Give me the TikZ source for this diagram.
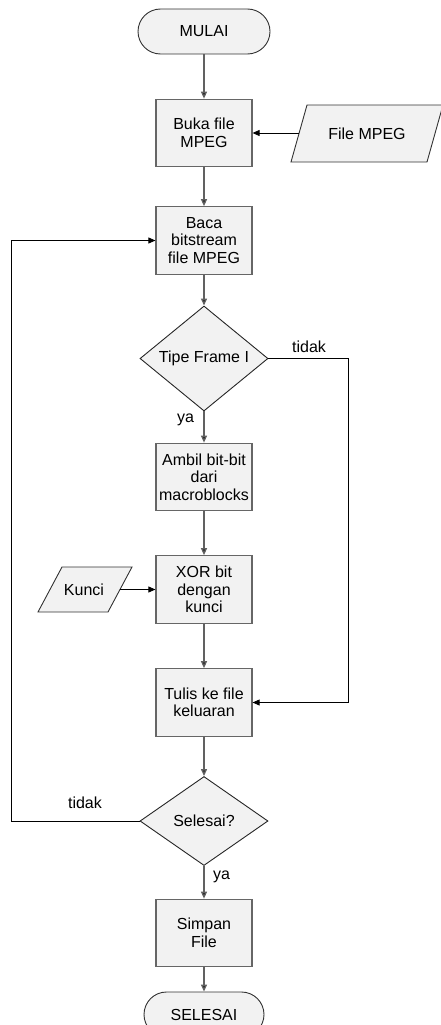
\documentclass[tikz,border=0pt]{standalone}
\usepackage{fontspec}
\setmainfont{Liberation Sans}
\usetikzlibrary{shapes.geometric,arrows.meta}
\begin{document}
\begin{tikzpicture}[x=1pt,y=-1pt,
  font=\fontsize{16}{17.5}\selectfont,
  proc/.style={rectangle, draw=black!60, line width=1.2pt, fill=black!5,
    minimum width=96pt, minimum height=67.5pt, align=center, inner sep=0pt},
  term/.style={rectangle, rounded corners=22.5pt, draw=black!80, line width=0.9pt,
    fill=black!5, minimum height=45pt, inner sep=0pt},
  decision/.style={diamond, draw=black!85, line width=0.9pt, fill=black!5,
    minimum width=128pt, minimum height=89pt, inner sep=0pt},
  iobox/.style={draw=black!80, line width=0.9pt, fill=black!5},
  vflow/.style={draw=black!62, line width=1.3pt, -{Triangle[length=7pt,width=6pt,fill=black!85]}},
  hflow/.style={draw=black, line width=0.8pt, -{Triangle[length=7pt,width=6pt]}},
  lbl/.style={inner sep=0pt}
]
\useasboundingbox (0,0) rectangle (440,1025);

% input/output parallelograms
\draw[iobox] (307,105) -- (443,105) -- (427,162) -- (291,162) -- cycle;
\draw[iobox] (62,567) -- (132,567) -- (108,612) -- (38,612) -- cycle;

\node[term, minimum width=132pt] (mulai) at (204,31.5) {MULAI};
\node[proc] (buka) at (204,133) {Buka file\\MPEG};
\node[lbl] (file) at (367,133.5) {File MPEG};
\node[proc] (baca) at (204,240.5) {Baca\\bitstream\\file MPEG};
\node[decision] (tipe) at (204,358.5) {Tipe Frame I};
\node[proc] (ambil) at (204,477) {Ambil bit-bit\\dari\\macroblocks};
\node[proc] (xor) at (204,589.5) {XOR bit\\dengan\\kunci};
\node[lbl] (kunci) at (84,589.5) {Kunci};
\node[proc] (tulis) at (204,702.5) {Tulis ke file\\keluaran};
\node[decision] (sel) at (204,821) {Selesai?};
\node[proc] (simpan) at (204,933) {Simpan\\File};
\node[term, minimum width=120pt] (selesai) at (204,1014.5) {SELESAI};

\coordinate (fileL) at (299,133);
\coordinate (kunciR) at (120,589.5);
\coordinate (rc1) at (348,358.5);
\coordinate (rc2) at (348,702.5);
\coordinate (lc1) at (11,821);
\coordinate (lc2) at (11,240.5);

\node[lbl] (tidak1) at (309,347) {tidak};
\node[lbl] (ya1) at (185.5,420) {ya};
\node[lbl] (tidak2) at (85,803) {tidak};
\node[lbl] (ya2) at (221.5,877) {ya};

\draw[vflow] (mulai) -- (buka);
\draw[hflow] (fileL) -- (buka.east |- fileL);
\draw[vflow] (buka) -- (baca);
\draw[vflow] (baca) -- (tipe);
\draw[vflow] (tipe) -- (ambil);
\draw[vflow] (ambil) -- (xor);
\draw[hflow] (kunciR) -- (xor.west |- kunciR);
\draw[vflow] (xor) -- (tulis);
\draw[vflow] (tulis) -- (sel);
\draw[vflow] (sel) -- (simpan);
\draw[vflow] (simpan) -- (selesai);
\draw[hflow] (tipe.east) -- (rc1) -- (rc2) -- (tulis.east);
\draw[hflow] (sel.west) -- (lc1) -- (lc2) -- (baca.west);
\end{tikzpicture}
\end{document}
